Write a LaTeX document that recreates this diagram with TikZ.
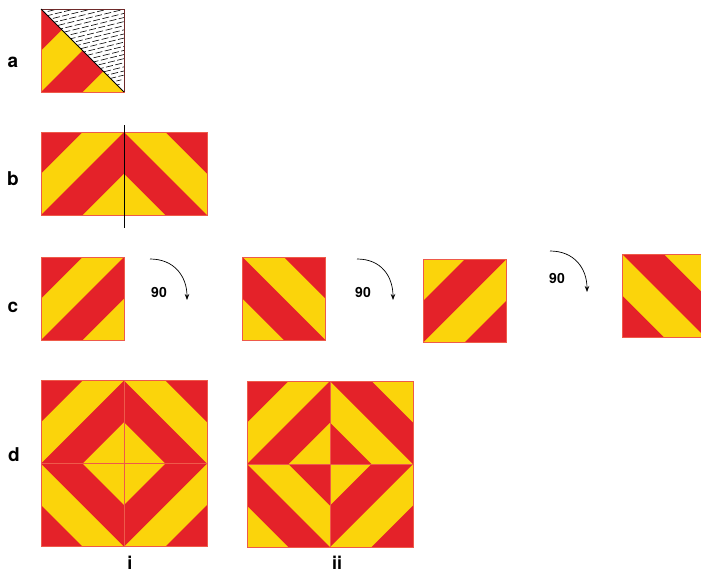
\documentclass[tikz,border=0pt]{standalone}
\usepackage{fontspec}
\setmainfont{TeX Gyre Heros}
\usetikzlibrary{arrows.meta}

\definecolor{signred}{HTML}{E42229}
\definecolor{signyellow}{HTML}{FBD40B}
\definecolor{edgered}{HTML}{EE5A4A}
\definecolor{darkedge}{HTML}{6E2A2A}

\def\tilehalf{41.5}
% one striped tile: centre x, centre y, rotation
\newcommand{\chevtile}[3]{%
  \begin{scope}[shift={(#1,#2)}, rotate=#3]
    \fill[signyellow] (-\tilehalf,-\tilehalf) rectangle (\tilehalf,\tilehalf);
    \fill[signred] (-\tilehalf,-\tilehalf) -- (0,-\tilehalf) -- (-\tilehalf,0) -- cycle;
    \fill[signred] (\tilehalf,-\tilehalf) -- (\tilehalf,0) -- (0,\tilehalf) -- (-\tilehalf,\tilehalf) -- cycle;
    \draw[tileedge] (-\tilehalf,-\tilehalf) rectangle (\tilehalf,\tilehalf);
  \end{scope}}

\begin{document}
\begin{tikzpicture}[x=1pt, y=-1pt,
  tileedge/.style={draw=edgered, line width=0.5pt},
  hatch/.style={line width=0.6pt, dash pattern=on 7pt off 2.5pt},
  turn/.style={-{Stealth[length=6pt,width=4.5pt]}, line width=0.7pt},
  turnlabel/.style={font=\bfseries\fontsize{14}{14}\selectfont, anchor=base, inner sep=0pt},
  panel/.style={font=\bfseries\fontsize{19}{19}\selectfont, anchor=base, inner sep=0pt}
]
\useasboundingbox (0,0) rectangle (701,573);

% Panel labels.
\node[panel] (lbla) at (13,67) {a};
\node[panel] (lblb) at (13,185) {b};
\node[panel] (lblc) at (13,312) {c};
\node[panel] (lbld) at (14,461) {d};

% a: half tile, upper triangle hatched
\chevtile{82.5}{50.5}{0}
\begin{scope}[shift={(82.5,50.5)}]
  \fill[white] (-\tilehalf,-\tilehalf) -- (\tilehalf,-\tilehalf) -- (\tilehalf,\tilehalf) -- cycle;
  \begin{scope}
    \clip (-\tilehalf,-\tilehalf) -- (\tilehalf,-\tilehalf) -- (\tilehalf,\tilehalf) -- cycle;
    \foreach \k in {-9,...,15}
      \draw[hatch] (-60-\k*2,\k*4.6) -- ++(125,-30.5);
  \end{scope}
  \draw[darkedge, line width=0.7pt] (-\tilehalf,-\tilehalf) -- (\tilehalf,-\tilehalf) -- (\tilehalf,\tilehalf);
  \draw[black, line width=0.8pt] (-\tilehalf,-\tilehalf) -- (\tilehalf,\tilehalf);
\end{scope}

% b: tile and its mirror image
\chevtile{82.5}{173.5}{0}
\chevtile{165.5}{173.5}{-90}
\draw[black, line width=0.9pt] (124,125) -- (124,228);

% c: successive quarter turns
\chevtile{82.5}{298.5}{0}
\chevtile{284}{298.5}{-90}
\chevtile{465}{300.5}{180}
\chevtile{663.5}{295.5}{90}

\coordinate (turn1s) at (150,259);
\coordinate (turn1e) at (187,300);
\coordinate (turn2s) at (357,259);
\coordinate (turn2e) at (393,300);
\coordinate (turn3s) at (550,251);
\coordinate (turn3e) at (587,292);
\draw[turn] (turn1s) .. controls +(24,0) and +(0,-24) .. (turn1e);
\draw[turn] (turn2s) .. controls +(24,0) and +(0,-24) .. (turn2e);
\draw[turn] (turn3s) .. controls +(24,0) and +(0,-24) .. (turn3e);
\node[turnlabel] (deg1) at (159,297) {90};
\node[turnlabel] (deg2) at (363,297) {90};
\node[turnlabel] (deg3) at (557,283) {90};

% d: two 2x2 arrangements
\chevtile{82.5}{422}{0}
\chevtile{165.5}{422}{-90}
\chevtile{82.5}{505}{90}
\chevtile{165.5}{505}{180}

\chevtile{288.5}{422.5}{0}
\chevtile{371.5}{422.5}{90}
\chevtile{288.5}{505.5}{-90}
\chevtile{371.5}{505.5}{180}

\node[panel, font=\bfseries\fontsize{18}{18}\selectfont] (lbli) at (130,569) {i};
\node[panel, font=\bfseries\fontsize{18}{18}\selectfont] (lblii) at (337,569) {ii};

\end{tikzpicture}
\end{document}
